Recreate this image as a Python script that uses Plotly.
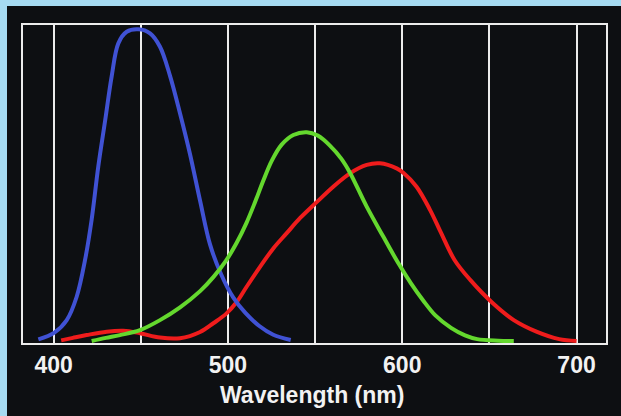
import plotly.graph_objects as go

# ---- data (wavelength in nm, relative sensitivity) ----
blue_nm = [391.2, 400.4, 407.5, 413.2, 418.0, 421.8, 425.6, 429.6, 433.3, 437.1, 441.9, 448.6,
           455.3, 461.0, 466.8, 472.5, 478.2, 484.0, 489.7, 496.0, 503.0, 510.0, 518.0, 526.0, 536.0]
blue_val = [0.005, 0.027, 0.067, 0.142, 0.26, 0.39, 0.56, 0.71, 0.85, 0.955, 0.992, 1.0,
            0.987, 0.944, 0.85, 0.73, 0.60, 0.45, 0.31, 0.215, 0.14, 0.09, 0.048, 0.02, 0.003]

green_nm = [421.8, 430.0, 438.0, 449.5, 461.0, 472.5, 484.0, 491.6, 498.9, 505.0, 510.7, 515.5,
            520.3, 525.1, 530.8, 537.5, 545.2, 551.5, 558.5, 565.0, 570.0, 579.6, 589.1, 597.7,
            605.0, 612.0, 619.0, 628.0, 636.0, 643.0, 655.0, 664.0]
green_val = [0.0, 0.01, 0.019, 0.035, 0.067, 0.108, 0.16, 0.205, 0.258, 0.315, 0.38, 0.445,
             0.515, 0.578, 0.630, 0.661, 0.670, 0.659, 0.627, 0.585, 0.540, 0.431, 0.335, 0.250,
             0.185, 0.13, 0.082, 0.042, 0.018, 0.006, 0.001, 0.0]

red_nm = [404.3, 411.0, 418.9, 430.4, 440.0, 449.5, 461.0, 472.5, 484.0, 491.6, 498.9, 505.0,
          510.7, 518.4, 526.0, 533.7, 541.3, 551.2, 560.4, 570.0, 579.6, 587.2, 596.8, 600.6,
          608.2, 616.0, 622.0, 630.0, 639.0, 652.0, 664.0, 677.0, 690.0, 700.0]
red_val = [0.002, 0.01, 0.019, 0.03, 0.033, 0.025, 0.011, 0.009, 0.029, 0.057, 0.087, 0.125,
           0.174, 0.238, 0.297, 0.346, 0.394, 0.447, 0.495, 0.538, 0.565, 0.570, 0.554, 0.540,
           0.495, 0.42, 0.35, 0.26, 0.196, 0.121, 0.067, 0.03, 0.006, 0.0]

tick_vals = [400, 450, 500, 550, 600, 650, 700]
tick_text = ["400", "", "500", "", "600", "", "700"]
x_title = "Wavelength (nm)"

# ---- figure ----
W, H = 621, 416
ML, MR, MT, MB = 23, 15, 25, 73
PW, PH = W - ML - MR, H - MT - MB

def px_x(p):
    return (p - ML) / PW

def px_y(p):
    return (H - MB - p) / PH

fig = go.Figure()
for xs, ys, col in [(red_nm, red_val, "#ef1c1c"),
                    (blue_nm, blue_val, "#4052d4"),
                    (green_nm, green_val, "#64d82e")]:
    fig.add_trace(go.Scatter(x=xs, y=ys, mode="lines",
                             line=dict(color=col, width=4, shape="spline", smoothing=1.0),
                             hoverinfo="skip", showlegend=False))

font_main = dict(family="Liberation Sans, Arial, sans-serif", size=23, color="#f2f2f2", weight=700)

fig.update_layout(
    width=W, height=H,
    margin=dict(l=ML, r=MR, t=MT, b=MB, pad=0),
    paper_bgcolor="#0d0f12",
    plot_bgcolor="#0d0f12",
    showlegend=False,
    xaxis=dict(range=[382.4, 716.9], tickvals=tick_vals, ticktext=tick_text,
               showgrid=True, gridcolor="#ececec", gridwidth=2,
               showline=True, linecolor="#ececec", linewidth=2, mirror=True,
               ticks="", tickfont=font_main, zeroline=False, ticklabelstandoff=0),
    yaxis=dict(range=[-0.0064, 1.0138], showgrid=False, showticklabels=False,
               showline=True, linecolor="#ececec", linewidth=2, mirror=True,
               ticks="", zeroline=False),
    shapes=[
        dict(type="rect", xref="paper", yref="paper", layer="below",
             x0=px_x(0), x1=px_x(W), y0=px_y(0), y1=px_y(6),
             fillcolor="#a6dbf2", line=dict(width=0)),
        dict(type="rect", xref="paper", yref="paper", layer="below",
             x0=px_x(0), x1=px_x(7), y0=px_y(0), y1=px_y(H),
             fillcolor="#a6dbf2", line=dict(width=0)),
    ],
    annotations=[
        dict(text=x_title, xref="paper", yref="paper", x=px_x(312), y=px_y(395),
             xanchor="center", yanchor="middle", showarrow=False, font=font_main),
    ],
)

fig.write_html("out.html",
               config={"displayModeBar": False},
               post_script="document.body.style.margin='0';document.body.style.background='#0d0f12';")
